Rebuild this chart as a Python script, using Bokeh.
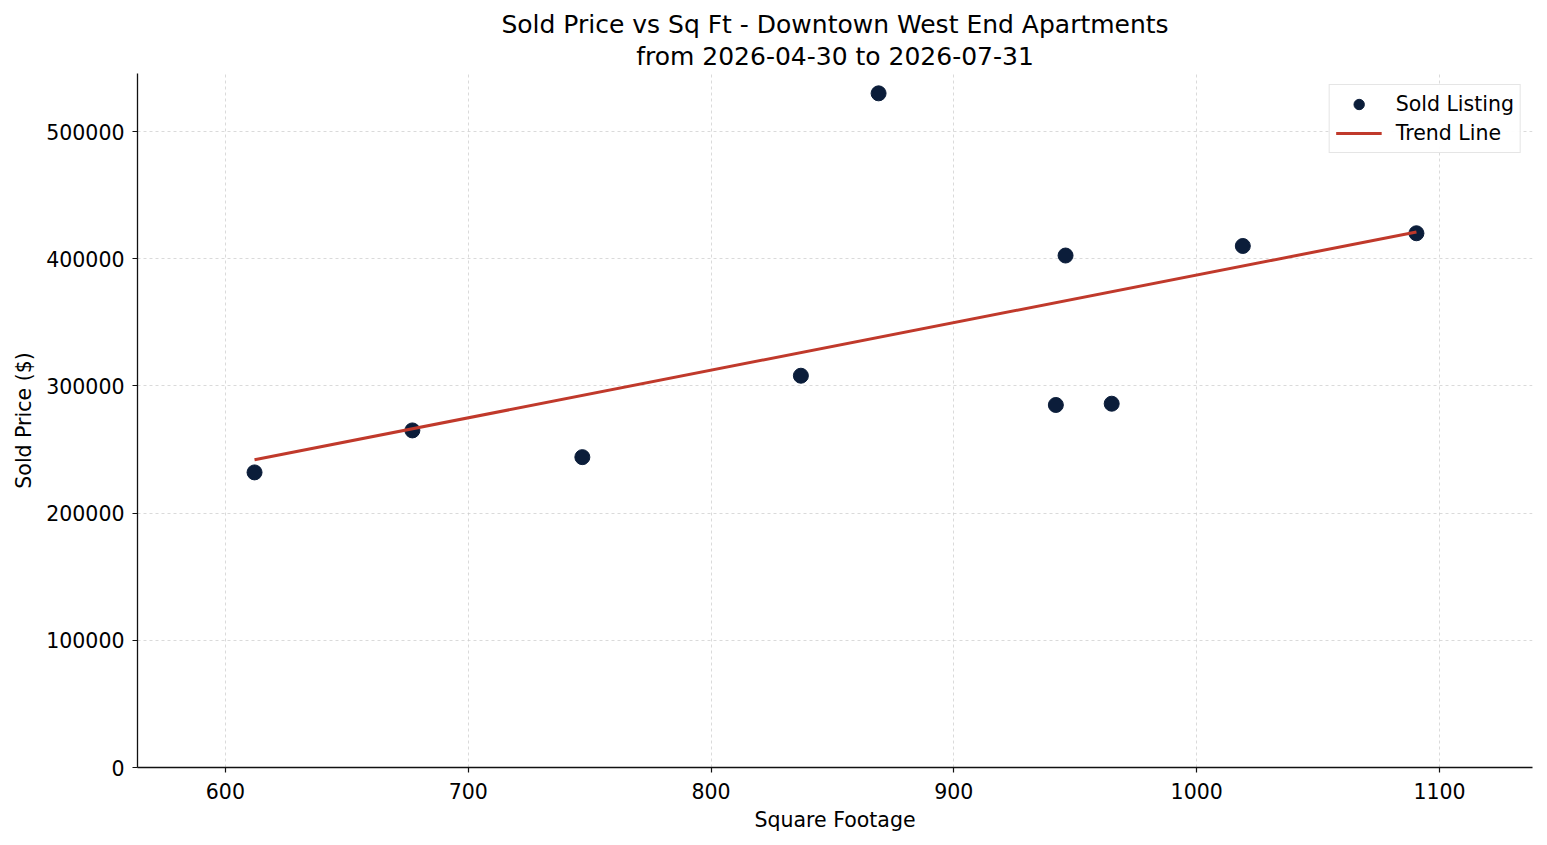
from bokeh.plotting import figure
from bokeh.models import Range1d, FixedTicker, BasicTickFormatter, Legend, LegendItem, Title
from bokeh.embed import file_html
from bokeh.resources import INLINE

sqft = [612, 677, 747, 837, 869, 942, 946, 965, 1019, 1090.5]
price = [232000, 265000, 244000, 308000, 530000, 285000, 402500, 286000, 410000, 420000]
trend_x = [612, 1090.5]
trend_y = [242000, 421000]
x_ticks = [600, 700, 800, 900, 1000, 1100]
y_ticks = [0, 100000, 200000, 300000, 400000, 500000]
title_lines = ["Sold Price vs Sq Ft - Downtown West End Apartments", "from 2026-04-30 to 2026-07-31"]

FONT = "DejaVu Sans"

p = figure(width=1547, height=845, output_backend="svg", toolbar_location=None,
           x_range=Range1d(563.8, 1138.3), y_range=Range1d(0, 545600),
           min_border_left=137, min_border_right=15, min_border_top=73, min_border_bottom=78,
           title=None)

t2 = Title(text=title_lines[1], align="center", text_font=FONT, text_font_size="25px",
           text_font_style="normal", text_color="black", standoff=5, offset=0)
t1 = Title(text=title_lines[0], align="center", text_font=FONT, text_font_size="25px",
           text_font_style="normal", text_color="black", standoff=-3, offset=0)
p.add_layout(t2, "above")
p.add_layout(t1, "above")

p.outline_line_color = None

pts = p.scatter(sqft, price, size=15, color="#0b1d3a", line_color="#0b1d3a")
ln = p.line(trend_x, trend_y, line_width=3, color="#c0392b")

for ax in (p.xaxis[0], p.yaxis[0]):
    ax.axis_line_color = "#111111"
    ax.axis_line_width = 1.3
    ax.major_tick_line_color = "#111111"
    ax.major_tick_line_width = 1.2
    ax.major_tick_out = 5
    ax.major_tick_in = 0
    ax.minor_tick_line_color = None
    ax.major_label_text_font = FONT
    ax.major_label_text_font_size = "20.5px"
    ax.major_label_text_color = "black"
    ax.axis_label_text_font = FONT
    ax.axis_label_text_font_size = "20.5px"
    ax.axis_label_text_font_style = "normal"
    ax.axis_label_text_color = "black"
    ax.formatter = BasicTickFormatter(use_scientific=False)

p.xaxis.ticker = FixedTicker(ticks=x_ticks)
p.yaxis.ticker = FixedTicker(ticks=y_ticks)
p.xaxis.axis_label = "Square Footage"
p.yaxis.axis_label = "Sold Price ($)"
p.xaxis.major_label_standoff = 10
p.yaxis.major_label_standoff = 8
p.xaxis.axis_label_standoff = 6
p.yaxis.axis_label_standoff = 7

for g in (p.xgrid[0], p.ygrid[0]):
    g.grid_line_color = "#cccccc"
    g.grid_line_dash = "3 3"
    g.grid_line_width = 0.8
    g.grid_line_alpha = 0.9

legend = Legend(items=[LegendItem(label="Sold Listing", renderers=[pts]),
                       LegendItem(label="Trend Line", renderers=[ln])],
                location="top_right")
legend.label_text_font = FONT
legend.label_text_font_size = "20.5px"
legend.label_text_color = "black"
legend.border_line_color = "#cccccc"
legend.border_line_width = 1.3
legend.margin = 11
legend.padding = 6
legend.spacing = 3
legend.glyph_width = 46
legend.glyph_height = 26
legend.label_standoff = 14
p.add_layout(legend)

open("out.html", "w").write(file_html(p, INLINE))
